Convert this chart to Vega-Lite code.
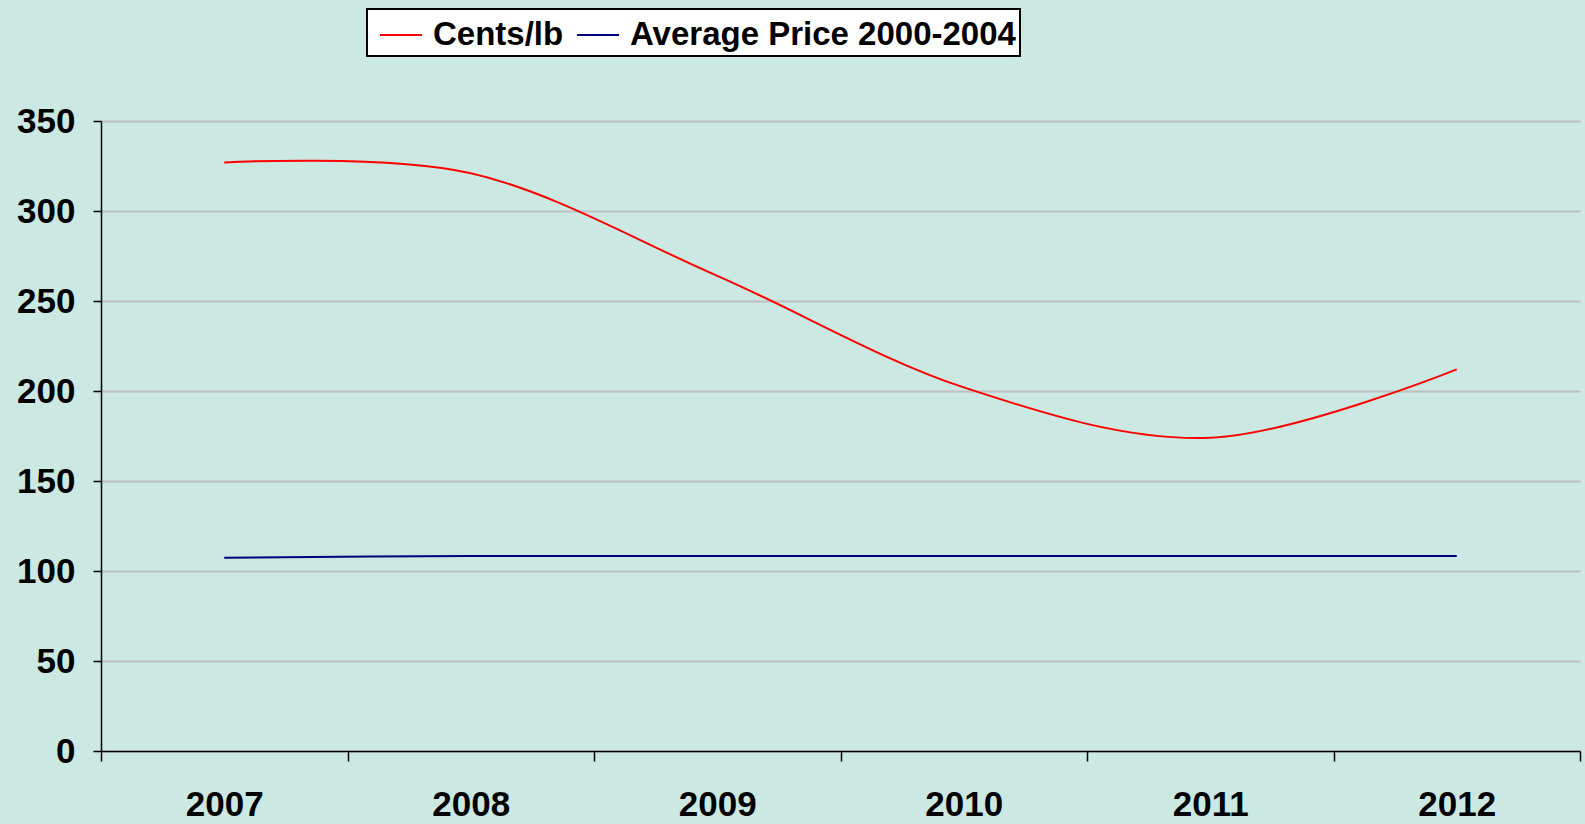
{
  "$schema": "https://vega.github.io/schema/vega-lite/v6.json",
  "autosize": "none",
  "padding": {"left": 101, "top": 121, "right": 5, "bottom": 73},
  "width": 1479,
  "height": 630,
  "background": "#cce8e2",
  "config": {
    "view": {"stroke": null},
    "font": "Liberation Sans",
    "legend": {"strokeWidth": 2}
  },
  "data": {
    "values": [
      {"year": "2007", "series": "Cents/lb", "value": 327},
      {"year": "2008", "series": "Cents/lb", "value": 321},
      {"year": "2009", "series": "Cents/lb", "value": 264},
      {"year": "2010", "series": "Cents/lb", "value": 202},
      {"year": "2011", "series": "Cents/lb", "value": 174},
      {"year": "2012", "series": "Cents/lb", "value": 212},
      {"year": "2007", "series": "Average Price 2000-2004", "value": 107.4},
      {"year": "2008", "series": "Average Price 2000-2004", "value": 108.3},
      {"year": "2009", "series": "Average Price 2000-2004", "value": 108.3},
      {"year": "2010", "series": "Average Price 2000-2004", "value": 108.3},
      {"year": "2011", "series": "Average Price 2000-2004", "value": 108.3},
      {"year": "2012", "series": "Average Price 2000-2004", "value": 108.3}
    ]
  },
  "mark": {"type": "line", "interpolate": "cardinal", "tension": 0, "strokeWidth": 2},
  "encoding": {
    "x": {
      "field": "year",
      "type": "ordinal",
      "scale": {"type": "band", "paddingInner": 0, "paddingOuter": 0},
      "axis": {
        "title": null,
        "labelAngle": 0,
        "labelFont": "Liberation Sans",
        "labelFontWeight": "bold",
        "labelFontSize": 35,
        "labelColor": "#000000",
        "labelPadding": 26,
        "tickSize": 10,
        "tickColor": "#000000",
        "tickWidth": 1.5,
        "domainColor": "#000000",
        "domainWidth": 1.5,
        "tickBand": "extent",
        "grid": false
      }
    },
    "y": {
      "field": "value",
      "type": "quantitative",
      "scale": {"domain": [0, 350], "nice": false},
      "axis": {
        "title": null,
        "values": [0, 50, 100, 150, 200, 250, 300, 350],
        "labelFont": "Liberation Sans",
        "labelFontWeight": "bold",
        "labelFontSize": 35,
        "labelColor": "#000000",
        "labelPadding": 18,
        "tickSize": 8,
        "tickColor": "#000000",
        "tickWidth": 1.5,
        "domainColor": "#000000",
        "domainWidth": 1.5,
        "grid": true,
        "gridColor": "#c0c0c0",
        "gridWidth": 2
      }
    },
    "color": {
      "field": "series",
      "type": "nominal",
      "sort": ["Cents/lb", "Average Price 2000-2004"],
      "scale": {"domain": ["Cents/lb", "Average Price 2000-2004"], "range": ["#ff0000", "#000080"]},
      "legend": {
        "title": null,
        "orient": "none",
        "direction": "horizontal",
        "legendX": 266,
        "legendY": -112,
        "fillColor": "#ffffff",
        "strokeColor": "#000000",
        "padding": 4,
        "symbolType": "stroke",
        "symbolSize": 1764,
        "symbolOffset": 8,
        "symbolStrokeWidth": 2,
        "labelFont": "Liberation Sans",
        "labelFontWeight": "bold",
        "labelFontSize": 33,
        "labelColor": "#000000",
        "labelOffset": 10,
        "columnPadding": 4,
        "labelLimit": 600
      }
    }
  }
}
